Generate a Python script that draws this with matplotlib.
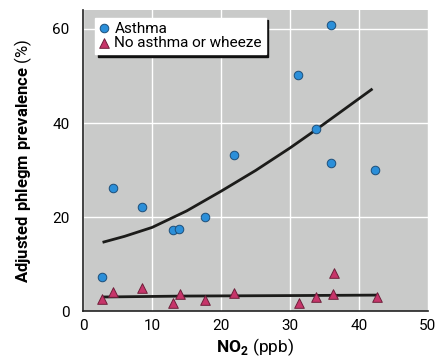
import numpy as np
import matplotlib
matplotlib.use("Agg")
import matplotlib.pyplot as plt

# --- data ---
asthma_no2 = [2.7, 4.3, 8.5, 13.0, 13.9, 17.6, 21.8, 31.1, 36.0, 33.7, 36.0, 42.3]
asthma_phlegm = [7.2, 26.2, 22.2, 17.3, 17.5, 20.1, 33.1, 50.3, 60.8, 38.7, 31.6, 30.1]

noasthma_no2 = [2.7, 4.3, 8.5, 13.0, 14.0, 17.7, 21.9, 31.3, 33.8, 36.2, 36.4, 42.6]
noasthma_phlegm = [2.6, 4.1, 5.0, 1.8, 3.6, 2.4, 3.9, 1.8, 2.9, 3.6, 8.1, 2.9]

# fitted curves as drawn in the figure
asthma_fit_x = [3.0, 6.0, 10.0, 15.0, 20.0, 25.0, 30.0, 33.7, 37.0, 41.8]
asthma_fit_y = [14.7, 15.9, 17.8, 21.3, 25.5, 29.9, 34.7, 38.5, 42.0, 47.1]
noasthma_fit_x = [3.0, 15.0, 30.0, 42.6]
noasthma_fit_y = [3.0, 3.2, 3.3, 3.4]

x_ticks = [0, 10, 20, 30, 40, 50]
y_ticks = [0, 20, 40, 60]

font = "Roboto"
plt.rcParams["font.family"] = [font, "DejaVu Sans"]
plt.rcParams["mathtext.fontset"] = "custom"
plt.rcParams["mathtext.rm"] = font
plt.rcParams["mathtext.bf"] = font + ":bold"

fig = plt.figure(figsize=(4.38, 3.63), dpi=100)
ax = fig.add_axes([0.19, 0.143, 0.787, 0.829])
ax.set_facecolor("#c9cac9")

ax.grid(True, color="white", linewidth=1.0)
ax.set_axisbelow(True)

ax.plot(asthma_fit_x, asthma_fit_y, color="#1c1c1a", lw=2.0, zorder=2)
ax.plot(noasthma_fit_x, noasthma_fit_y, color="#1c1c1a", lw=2.0, zorder=2)

ax.scatter(asthma_no2, asthma_phlegm, s=38, marker="o", color="#2b8fd9",
           edgecolor="#1d4f7a", linewidth=0.7, zorder=3, label="Asthma")
ax.scatter(noasthma_no2, noasthma_phlegm, s=48, marker="^", color="#c7356a",
           edgecolor="#6e1f3a", linewidth=0.7, zorder=3, label="No asthma or wheeze")

ax.set_xlim(0, 50)
ax.set_ylim(0, 64)
ax.set_xticks(x_ticks)
ax.set_yticks(y_ticks)
ax.tick_params(length=0, labelsize=11)
ax.tick_params(axis="y", pad=10)
ax.tick_params(axis="x", pad=6)

for side in ("top", "right"):
    ax.spines[side].set_visible(False)
for side in ("left", "bottom"):
    ax.spines[side].set_color("#222222")
    ax.spines[side].set_linewidth(1.2)

ax.set_xlabel(r"$\mathbf{NO}_\mathbf{2}$ (ppb)", fontsize=12.5, labelpad=2)
ax.set_ylabel(r"$\mathbf{Adjusted\ phlegm\ prevalence}$ (%)", fontsize=12, labelpad=13)

leg = ax.legend(loc="upper left", bbox_to_anchor=(0.035, 0.975), fontsize=11,
                frameon=True, fancybox=False, handlelength=0.6, handletextpad=0.4,
                borderpad=0.25, labelspacing=0.05, borderaxespad=0.0,
                shadow={"color": "#111111", "alpha": 1.0})
leg.get_frame().set_facecolor("white")
leg.get_frame().set_edgecolor("white")
leg.get_frame().set_alpha(1.0)

fig.savefig("out.png", dpi=100, facecolor="white")
